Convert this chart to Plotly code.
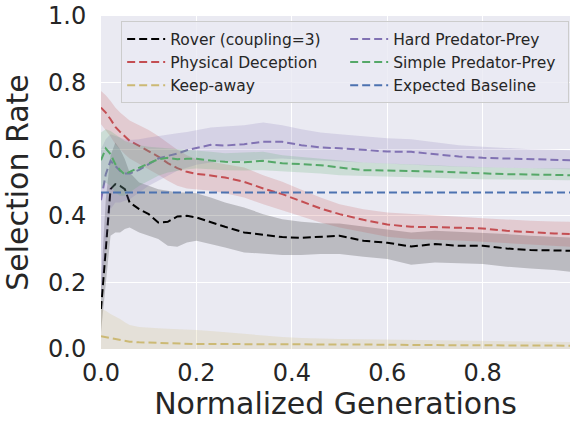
import plotly.graph_objects as go

# ---------------- data ----------------
generations = [0.0, 0.01, 0.02, 0.03, 0.04, 0.05, 0.06, 0.08, 0.10, 0.12, 0.14, 0.16,
               0.18, 0.20, 0.23, 0.26, 0.30, 0.34, 0.38, 0.42, 0.46, 0.50, 0.55, 0.60,
               0.65, 0.70, 0.75, 0.80, 0.85, 0.90, 0.95, 0.983]

rover_mean = [0.12, 0.30, 0.48, 0.495, 0.49, 0.48, 0.44, 0.42, 0.405, 0.38, 0.382, 0.398,
              0.40, 0.395, 0.38, 0.367, 0.35, 0.342, 0.336, 0.334, 0.337, 0.34, 0.325, 0.319,
              0.308, 0.315, 0.31, 0.31, 0.302, 0.297, 0.296, 0.295]
rover_hi = [0.20, 0.45, 0.58, 0.62, 0.60, 0.57, 0.53, 0.50, 0.49, 0.48, 0.475, 0.47,
            0.47, 0.468, 0.455, 0.44, 0.425, 0.405, 0.39, 0.382, 0.378, 0.377, 0.368, 0.358,
            0.35, 0.355, 0.352, 0.35, 0.345, 0.34, 0.338, 0.335]
rover_lo = [0.05, 0.20, 0.34, 0.35, 0.35, 0.36, 0.365, 0.35, 0.34, 0.33, 0.31, 0.307,
            0.32, 0.325, 0.315, 0.305, 0.29, 0.285, 0.282, 0.282, 0.285, 0.285, 0.277, 0.27,
            0.253, 0.26, 0.258, 0.255, 0.247, 0.242, 0.237, 0.232]

deception_mean = [0.725, 0.71, 0.69, 0.667, 0.652, 0.637, 0.625, 0.61, 0.595, 0.578, 0.558, 0.543,
                  0.532, 0.526, 0.521, 0.515, 0.502, 0.482, 0.465, 0.443, 0.422, 0.405, 0.388, 0.374,
                  0.367, 0.366, 0.365, 0.362, 0.355, 0.35, 0.347, 0.345]
deception_hi = [0.775, 0.762, 0.745, 0.725, 0.71, 0.697, 0.686, 0.672, 0.658, 0.64, 0.618, 0.598,
                0.582, 0.57, 0.562, 0.555, 0.545, 0.522, 0.502, 0.478, 0.455, 0.435, 0.42, 0.41,
                0.405, 0.40, 0.397, 0.393, 0.388, 0.385, 0.383, 0.382]
deception_lo = [0.675, 0.658, 0.638, 0.615, 0.60, 0.585, 0.572, 0.556, 0.54, 0.523, 0.505, 0.49,
                0.482, 0.48, 0.475, 0.468, 0.455, 0.435, 0.418, 0.398, 0.38, 0.365, 0.35, 0.337,
                0.33, 0.328, 0.326, 0.322, 0.318, 0.313, 0.31, 0.307]

keepaway_mean = [0.038, 0.035, 0.032, 0.03, 0.027, 0.024, 0.022, 0.02, 0.019, 0.018, 0.017, 0.016,
                 0.016, 0.015, 0.015, 0.015, 0.015, 0.014, 0.014, 0.014, 0.014, 0.013, 0.013, 0.013,
                 0.012, 0.012, 0.012, 0.011, 0.011, 0.011, 0.010, 0.010]
keepaway_hi = [0.12, 0.115, 0.105, 0.098, 0.09, 0.08, 0.072, 0.066, 0.063, 0.062, 0.061, 0.06,
               0.058, 0.057, 0.054, 0.05, 0.045, 0.04, 0.036, 0.033, 0.031, 0.03, 0.029, 0.028,
               0.027, 0.026, 0.025, 0.024, 0.023, 0.022, 0.021, 0.021]
keepaway_lo = [0.0] * 32

hard_pp_mean = [0.447, 0.525, 0.565, 0.55, 0.535, 0.527, 0.527, 0.538, 0.556, 0.572, 0.58, 0.587,
                0.597, 0.603, 0.613, 0.611, 0.615, 0.622, 0.622, 0.612, 0.605, 0.603, 0.598, 0.593,
                0.592, 0.585, 0.578, 0.574, 0.572, 0.57, 0.568, 0.567]
hard_pp_hi = [0.60, 0.63, 0.645, 0.64, 0.635, 0.63, 0.628, 0.63, 0.635, 0.64, 0.645, 0.648,
              0.652, 0.657, 0.665, 0.668, 0.672, 0.68, 0.672, 0.66, 0.65, 0.645, 0.638, 0.633,
              0.63, 0.62, 0.612, 0.607, 0.603, 0.60, 0.598, 0.597]
hard_pp_lo = [0.15, 0.30, 0.42, 0.44, 0.44, 0.445, 0.45, 0.47, 0.49, 0.505, 0.52, 0.535,
              0.545, 0.553, 0.56, 0.562, 0.565, 0.57, 0.572, 0.568, 0.565, 0.562, 0.558, 0.555,
              0.553, 0.55, 0.547, 0.545, 0.544, 0.543, 0.542, 0.54]

simple_pp_mean = [0.567, 0.602, 0.585, 0.555, 0.537, 0.524, 0.532, 0.545, 0.557, 0.57, 0.574, 0.57,
                  0.571, 0.571, 0.566, 0.562, 0.561, 0.565, 0.558, 0.555, 0.552, 0.545, 0.537, 0.536,
                  0.535, 0.533, 0.53, 0.527, 0.525, 0.524, 0.523, 0.522]
simple_pp_hi = [0.65, 0.66, 0.655, 0.645, 0.635, 0.625, 0.62, 0.612, 0.607, 0.605, 0.603, 0.60,
                0.598, 0.597, 0.592, 0.588, 0.59, 0.592, 0.582, 0.577, 0.572, 0.567, 0.56, 0.557,
                0.555, 0.552, 0.548, 0.545, 0.544, 0.543, 0.542, 0.542]
simple_pp_lo = [0.48, 0.50, 0.49, 0.47, 0.46, 0.46, 0.47, 0.49, 0.505, 0.52, 0.53, 0.535,
                0.54, 0.542, 0.54, 0.537, 0.536, 0.537, 0.533, 0.53, 0.527, 0.522, 0.518, 0.517,
                0.515, 0.513, 0.512, 0.51, 0.509, 0.508, 0.507, 0.507]

expected_baseline = 0.47

x_ticks = [0.0, 0.2, 0.4, 0.6, 0.8]
x_tick_labels = ["0.0", "0.2", "0.4", "0.6", "0.8"]
y_ticks = [0.0, 0.2, 0.4, 0.6, 0.8, 1.0]
y_tick_labels = ["0.0", "0.2", "0.4", "0.6", "0.8", "1.0"]

# ---------------- styling ----------------
FONT = "DejaVu Sans"
TEXT = "#262626"

series = [
    ("Rover (coupling=3)", rover_mean, rover_lo, rover_hi, (0, 0, 0), 1),
    ("Physical Deception", deception_mean, deception_lo, deception_hi, (196, 78, 82), 3),
    ("Keep-away", keepaway_mean, keepaway_lo, keepaway_hi, (204, 185, 116), 5),
    ("Hard Predator-Prey", hard_pp_mean, hard_pp_lo, hard_pp_hi, (129, 114, 179), 2),
    ("Simple Predator-Prey", simple_pp_mean, simple_pp_lo, simple_pp_hi, (85, 168, 104), 4),
]

fig = go.Figure()
for name, mean, lo, hi, (r, g, b), rank in series:
    fig.add_trace(go.Scatter(
        x=generations + generations[::-1],
        y=hi + lo[::-1],
        fill="toself",
        fillcolor=f"rgba({r},{g},{b},0.2)",
        line=dict(width=0),
        hoverinfo="skip",
        showlegend=False,
    ))
    fig.add_trace(go.Scatter(
        x=generations, y=mean, mode="lines", name=name,
        line=dict(color=f"rgb({r},{g},{b})", width=2, dash="8px,4px"),
        legendrank=rank,
    ))

fig.add_trace(go.Scatter(
    x=[generations[0], generations[-1]],
    y=[expected_baseline, expected_baseline],
    mode="lines", name="Expected Baseline",
    line=dict(color="rgb(76,114,176)", width=2, dash="8px,4px"),
    legendrank=6,
))

fig.update_layout(
    width=570, height=421,
    margin=dict(l=101, r=0, t=16, b=72),
    paper_bgcolor="white",
    plot_bgcolor="#EAEAF2",
    font=dict(family=FONT, color=TEXT),
    showlegend=True,
    legend=dict(
        orientation="h",
        x=0.043, y=0.984, xanchor="left", yanchor="top",
        itemwidth=38,
        entrywidth=170, entrywidthmode="pixels",
        bgcolor="rgba(234,234,242,0.8)",
        bordercolor="#cccccc", borderwidth=1,
        font=dict(family=FONT, size=15.5, color=TEXT),
        traceorder="normal",
    ),
    xaxis=dict(
        range=[0, generations[-1]],
        tickvals=x_ticks, ticktext=x_tick_labels,
        showgrid=True, gridcolor="white", gridwidth=1.2,
        zeroline=False, showline=False,
        ticks="outside", ticklen=2, tickcolor="rgba(0,0,0,0)",
        tickfont=dict(family=FONT, size=24, color=TEXT),
        title=dict(text="Normalized Generations", font=dict(family=FONT, size=30, color=TEXT), standoff=8),
    ),
    yaxis=dict(
        range=[0, 1.0],
        tickvals=y_ticks, ticktext=y_tick_labels,
        showgrid=True, gridcolor="white", gridwidth=1.2,
        zeroline=False, showline=False,
        ticks="outside", ticklen=9, tickcolor="rgba(0,0,0,0)",
        tickfont=dict(family=FONT, size=24, color=TEXT),
        title=dict(text="Selection Rate", font=dict(family=FONT, size=30, color=TEXT), standoff=12),
    ),
)

fig.write_html("out.html")
